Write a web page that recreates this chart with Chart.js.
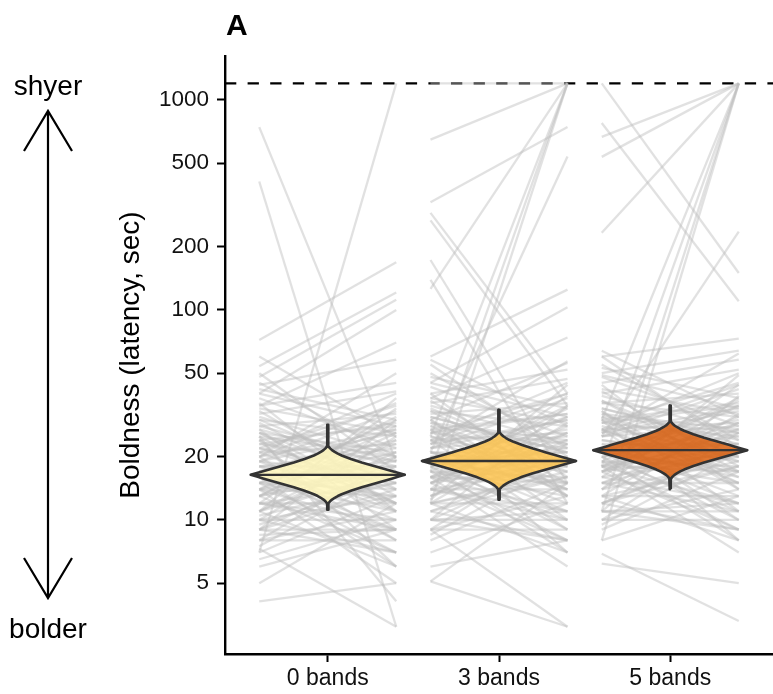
<!DOCTYPE html>
<html>
<head>
<meta charset="utf-8">
<script src="https://cdn.jsdelivr.net/npm/chart.js@4/dist/chart.umd.min.js"></script>
<style>
html,body{margin:0;padding:0;background:#fff;}
#wrap{width:773px;height:694px;position:relative;}
</style>
</head>
<body>
<div id="wrap"><canvas id="c" width="773" height="694"></canvas></div>
<script>
// ---------- data ----------
const categories = ['0 bands', '3 bands', '5 bands'];
const yTickValues = [5, 10, 20, 50, 100, 200, 500, 1000];
const maxLatency = 1200;

// paired trials per treatment (latency, sec)
const band0Trial1 = [7,743,409,72,54,48,40,35,44,4.1,7.3,25,5,6, 12,18,9,25,15,20,11,30,14,8, 22,16,10,27,13,19,9,33,17,12, 21,15,7,28,11,24,16,9.5,38,13, 20,18,10,26,14,8,31,12,17,23, 15,42,11,19,8.5,29,14,21,6.5,35, 10.5,16,24,13,50,9,27,18,12,60, 20,15,7.5,36,11,22,17,26,14,19,
  10,16,22,13,19,9,25,14,30,11, 17,23,8,28,12,20,15,34,10,18, 26,13,40,16,21,9,32,14,24,45];
const band0Trial2 = [1200,19,3.1,169,121,112,100,70,58,5,3.1,4.1,12,9, 15,22,14,11,30,8,17,25,9,20, 35,13,10,18,28,16,7,14,24,9, 40,11,13,32,21,12,19,16,22,7, 27,10,25,15,17,11,20,34,8,19, 14,30,6,26,9,13,23,12,10,45, 15,6,28,20,17,30,9,18,12,25, 50,7,17,11,38,16,27,21,5,33,
  13,18,14,26,11,9,20,31,16,24, 12,29,8,19,10,36,21,26,7,15, 12,17,28,9,23,18,41,13,6,20];

const band3Trial1 = [648,126,25,17,12,1200,326,21,290,267,173,139,60,45,38,30,5.1,9,5.1,6, 14,22,11,28,17,24,13,33,16,9, 26,19,12,31,15,21,10,37,20,14, 24,17,8,32,13,27,18,11,43,15, 23,20,12,29,16,9,35,14,19,26, 17,48,12,22,10,33,16,24,7,40, 12,18,27,15,55,10,30,21,14,58, 23,17,8.5,40,12.5,25,19,29,16,22,
  12,19,25,15,21,10,28,16,34,13, 20,26,9,31,14,23,18,38,11,21, 30,15,45,18,24,10,36,16,27,50];
const band3Trial2 = [1200,1200,1200,1200,1200,1200,743,538,40,35,15,12,125,103,74,56,3.1,3.1,15,8, 18,25,16,13,35,9,20,28,11,23, 40,15,12,21,31,18,8,16,27,10, 45,13,15,36,24,14,22,19,25,8, 30,11,29,17,20,13,23,39,9,22, 16,34,7,30,10,15,26,14,12,52, 17,7,32,23,20,35,10,21,14,28, 57,8,19,13,44,18,31,24,6,38,
  16,21,15,28,12,11,23,34,18,26, 14,32,9,21,11,40,24,29,8,17, 13,19,31,10,26,20,47,15,7,22];

const band5Trial1 = [1200,777,667,536,233,30,18,11,8,25,60,50,6.9,6.2, 16,25,12,31,19,27,15,36,18,10, 29,21,13,34,17,24,11,41,22,15, 27,19,9,36,15,30,20,12,48,17, 26,22,13,32,18,10,39,16,21,29, 19,53,13,25,11,37,18,27,8,45, 14,20,30,17,60,11,33,23,15,64, 26,19,9.5,44,14,28,21,32,18,25,
  13,21,27,17,23,11,31,18,37,14, 22,29,10,34,16,26,20,42,12,24, 33,17,49,20,27,12,40,18,30,55];
const band5Trial2 = [150,110,1200,1200,1200,1200,1200,1200,1200,236,73,64,3.3,5, 20,28,18,15,38,10,22,31,12,26, 45,17,13,24,35,20,9,18,30,11, 50,15,17,40,27,16,25,21,28,9, 34,12,32,19,22,14,26,44,10,25, 18,38,8,33,11,17,29,15,13,58, 19,8,36,26,22,39,11,23,15,31, 62,9,21,14,49,20,35,27,7,42,
  18,23,17,31,13,12,26,37,20,29, 16,35,10,23,12,44,27,32,9,19, 14,21,34,11,29,22,52,17,8,24];

// posterior violins (median, tail ends) per treatment
const violinMedian = [16.4, 19.1, 21.5];
const violinUpper  = [28.4, 33.5, 35.1];
const violinLower  = [11.2, 12.5, 14.0];
const violinColors = ['rgba(255,247,188,0.85)', 'rgba(254,196,79,0.85)', 'rgba(217,95,14,0.85)'];
// violin outline profile: log10 distance from median -> relative half width
const violinLogOffsets = [0,0.0084,0.0168,0.0252,0.0336,0.042,0.0504,0.0588,0.0672,0.0756,0.084,0.0924,0.1008,0.1092,0.1176,0.126,0.1344,0.1428,0.1512];
const violinRelWidth   = [1,0.92,0.84,0.76,0.68,0.60,0.52,0.44,0.37,0.30,0.24,0.18,0.13,0.09,0.055,0.03,0.012,0.004,0.002];

// ---------- build datasets ----------
const pairs = [[band0Trial1, band0Trial2], [band3Trial1, band3Trial2], [band5Trial1, band5Trial2]];
const pairHalf = 0.4;
const violinHalf = 0.45;
const datasets = [];

datasets.push({
  data: [{x: 0.4, y: maxLatency}, {x: 3.6, y: maxLatency}],
  borderColor: '#000', borderWidth: 2.4, borderDash: [11.3, 11.3],
  pointRadius: 0, fill: false, order: 30
});

pairs.forEach((p, i) => {
  const c = i + 1;
  for (let k = 0; k < p[0].length; k++) {
    datasets.push({
      data: [{x: c - pairHalf, y: p[0][k]}, {x: c + pairHalf, y: p[1][k]}],
      borderColor: 'rgba(188,188,188,0.45)', borderWidth: 2.3,
      pointRadius: 0, fill: false, order: 20
    });
  }
});

function violinPoints(i) {
  const c = i + 1, m = Math.log10(violinMedian[i]);
  const eps = 0.003, n = violinLogOffsets.length;
  const w = k => Math.max(eps, violinHalf * violinRelWidth[k]);
  const pts = [];
  pts.push({x: c + eps, y: violinLower[i]});
  for (let k = n - 1; k >= 0; k--) pts.push({x: c + w(k), y: Math.pow(10, m - violinLogOffsets[k])});
  for (let k = 1; k < n; k++) pts.push({x: c + w(k), y: Math.pow(10, m + violinLogOffsets[k])});
  pts.push({x: c + eps, y: violinUpper[i]});
  pts.push({x: c - eps, y: violinUpper[i]});
  for (let k = n - 1; k >= 1; k--) pts.push({x: c - w(k), y: Math.pow(10, m + violinLogOffsets[k])});
  for (let k = 0; k < n; k++) pts.push({x: c - w(k), y: Math.pow(10, m - violinLogOffsets[k])});
  pts.push({x: c - eps, y: violinLower[i]});
  pts.push({x: c + eps, y: violinLower[i]});
  return pts;
}

for (let i = 0; i < 3; i++) {
  datasets.push({
    data: violinPoints(i),
    borderColor: '#333333', borderWidth: 2.6, backgroundColor: violinColors[i],
    fill: 'shape', pointRadius: 0, tension: 0, order: 5, borderJoinStyle: 'round'
  });
  datasets.push({
    data: [{x: i + 1 - violinHalf, y: violinMedian[i]}, {x: i + 1 + violinHalf, y: violinMedian[i]}],
    borderColor: '#333333', borderWidth: 2.4, pointRadius: 0, fill: false, order: 1
  });
}

// ---------- annotation plugin (panel letter, shyer/bolder arrow) ----------
const annot = {
  id: 'annot',
  afterDraw(chart) {
    const ctx = chart.ctx;
    ctx.save();
    ctx.fillStyle = '#000';
    ctx.font = 'bold 30px "Liberation Sans", Arial, sans-serif';
    ctx.textAlign = 'left'; ctx.textBaseline = 'alphabetic';
    ctx.fillText('A', 226, 35);
    ctx.font = '28px "Liberation Sans", Arial, sans-serif';
    ctx.textAlign = 'center'; ctx.textBaseline = 'middle';
    ctx.fillText('shyer', 48, 87);
    ctx.fillText('bolder', 48, 630);
    ctx.strokeStyle = '#000'; ctx.lineWidth = 2.2; ctx.lineCap = 'butt';
    ctx.beginPath();
    ctx.moveTo(48, 111); ctx.lineTo(48, 598);
    ctx.moveTo(24, 151); ctx.lineTo(48, 111); ctx.lineTo(72, 151);
    ctx.moveTo(24, 558); ctx.lineTo(48, 598); ctx.lineTo(72, 558);
    ctx.stroke();
    ctx.restore();
  }
};

const tickFont = {family: '"Liberation Sans", Arial, sans-serif', size: 22.5};

new Chart(document.getElementById('c'), {
  type: 'line',
  data: {datasets},
  options: {
    responsive: false, animation: false, events: [],
    layout: {padding: {left: 0, right: 0, top: 56, bottom: 0}},
    plugins: {legend: {display: false}, tooltip: {enabled: false}},
    scales: {
      x: {
        type: 'linear', min: 0.4, max: 3.6,
        grid: {drawOnChartArea: false, drawTicks: true, tickLength: 8, tickColor: '#000', tickWidth: 2},
        border: {display: true, color: '#000', width: 2.4},
        ticks: {font: {...tickFont, size: 23}, color: '#111', padding: 3, autoSkip: false, maxRotation: 0,
                callback: v => categories[v - 1]},
        afterBuildTicks: s => { s.ticks = [1, 2, 3].map(v => ({value: v})); },
        afterFit: s => { s.height = 40; s.paddingLeft = 0; s.paddingRight = 0; }
      },
      y: {
        type: 'logarithmic', min: 2.30, max: 1620,
        grid: {drawOnChartArea: false, drawTicks: true, tickLength: 8, tickColor: '#000', tickWidth: 2},
        border: {display: true, color: '#000', width: 2.4},
        ticks: {font: tickFont, color: '#111', padding: 8, autoSkip: false,
                callback: v => String(v)},
        afterBuildTicks: s => { s.ticks = yTickValues.map(v => ({value: v})); },
        title: {display: true, text: 'Boldness (latency, sec)', color: '#000',
                font: {family: '"Liberation Sans", Arial, sans-serif', size: 28}, padding: {top: 114}},
        afterFit: s => { s.width = 225; s.paddingTop = 0; s.paddingBottom = 0; }
      }
    }
  },
  plugins: [annot]
});
</script>
</body>
</html>
